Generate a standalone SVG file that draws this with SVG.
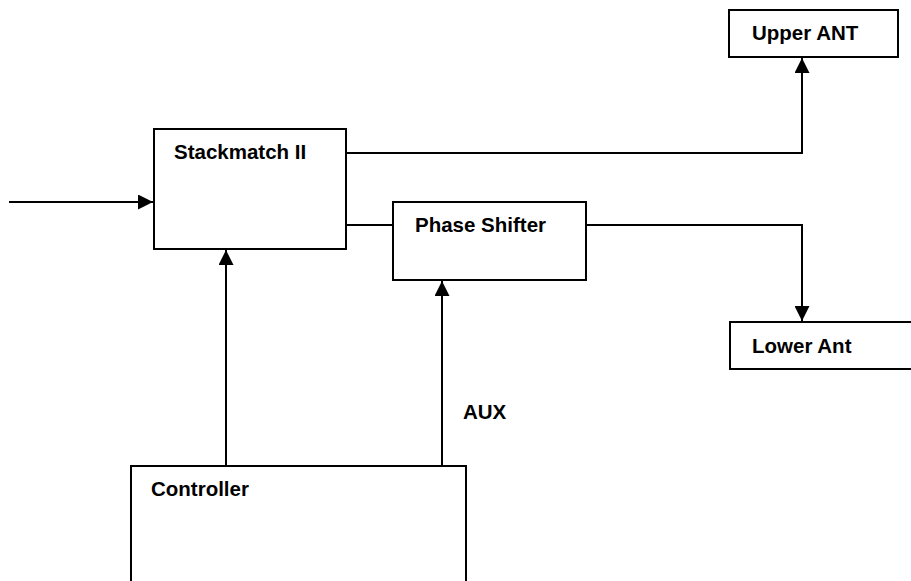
<svg xmlns="http://www.w3.org/2000/svg" width="911" height="581" viewBox="0 0 911 581">
<style>
.box{fill:#fff;stroke:#000;stroke-width:2}
.lbl{font-family:"Liberation Sans",Arial,sans-serif;font-weight:bold;font-size:20.5px;fill:#000}
.wire{fill:none;stroke:#000;stroke-width:2}
</style>
<defs>
<marker id="ah" markerUnits="userSpaceOnUse" markerWidth="15" markerHeight="15" refX="15" refY="7.5" orient="auto">
<path d="M0,0 L15,7.5 L0,15 Z" fill="#000"/>
</marker>
</defs>
<rect width="911" height="581" fill="#fff"/>
<g id="connectors">
<path class="wire" d="M9,202 H153" marker-end="url(#ah)"/>
<path class="wire" d="M346,153 H802 V58" marker-end="url(#ah)"/>
<path class="wire" d="M346,225 H393"/>
<path class="wire" d="M586,225 H802 V321" marker-end="url(#ah)"/>
<path class="wire" d="M226,466 V250" marker-end="url(#ah)"/>
<path class="wire" d="M442,466 V281" marker-end="url(#ah)"/>
</g>
<g id="upper-ant">
<rect class="box" x="729" y="10" width="169" height="47"/>
<text class="lbl" x="752" y="40">Upper ANT</text>
</g>
<g id="stackmatch">
<rect class="box" x="154" y="129" width="192" height="120"/>
<text class="lbl" x="174" y="159">Stackmatch II</text>
</g>
<g id="phase-shifter">
<rect class="box" x="393" y="202" width="193" height="78"/>
<text class="lbl" x="415" y="232">Phase Shifter</text>
</g>
<g id="lower-ant">
<rect class="box" x="730" y="322" width="200" height="47"/>
<text class="lbl" x="752" y="353">Lower Ant</text>
</g>
<g id="controller">
<rect class="box" x="131" y="466" width="335" height="130"/>
<text class="lbl" x="151" y="496">Controller</text>
</g>
<g id="aux-label">
<text class="lbl" x="463" y="419">AUX</text>
</g>
</svg>
